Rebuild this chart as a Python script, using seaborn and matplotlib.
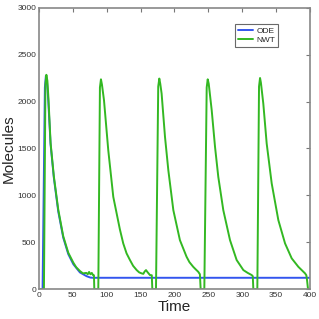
import matplotlib
matplotlib.use("Agg")
import matplotlib.pyplot as plt
import seaborn as sns
import pandas as pd

# ODE solution
ode_t = [0, 5.4, 8.8, 10.3, 12, 13.8, 17.2, 22, 28.5, 35.9, 43.3, 50.7, 60.5, 70.3, 76, 80, 100, 200, 300, 400]
ode_v = [0, 0, 2150, 2275, 2200, 2010, 1545, 1190, 830, 550, 375, 268, 180, 140, 125, 123, 123, 123, 123, 123]

# NWT stochastic simulation
nwt_t = [0, 7.4, 9.6, 11, 12.5, 14, 17.2, 22, 28.5, 35.9, 43.3, 50.7, 55, 60.5, 65, 70, 72, 74, 76, 78, 80, 81.2, 81.7, 87.6,
         90, 91.5, 93, 96, 102.3, 109.7, 119.4, 124.4, 129.3, 134.3, 139, 144.2, 148, 151.5, 154, 156, 158, 160, 163.8, 166.5, 167.3, 172.7,
         176, 177.6, 179, 181, 186, 190.9, 198.3, 208, 217.8, 222, 227.6, 231, 235, 237.5, 238.6, 244,
         247.5, 249, 250.5, 254.9, 259.8, 264.6, 272, 281.9, 291.7, 301.6, 308, 313.9, 315.5, 316.3, 322.2,
         324.7, 326.2, 327.5, 331, 336, 343.4, 353.2, 363.1, 372.9, 382.7, 392.6, 394.5, 395.5, 397, 400]
nwt_v = [0, 0, 2180, 2285, 2220, 2040, 1560, 1205, 850, 565, 390, 285, 235, 195, 170, 175, 160, 185, 160, 175, 150, 150, 0, 0,
         2150, 2237, 2180, 2014, 1482, 985, 640, 489, 383, 312, 250, 205, 180, 170, 165, 190, 205, 185, 152, 150, 0, 0,
         2160, 2245, 2190, 2085, 1623, 1269, 843, 524, 347, 290, 240, 215, 187, 160, 0, 0,
         2150, 2237, 2190, 1907, 1517, 1198, 843, 524, 312, 205, 175, 152, 140, 0, 0,
         2160, 2251, 2200, 1979, 1553, 1128, 737, 489, 330, 240, 170, 150, 100, 0, 0]

ode = pd.DataFrame({"t": ode_t, "v": ode_v})
nwt = pd.DataFrame({"t": nwt_t, "v": nwt_v})

sns.set_style("white")
plt.rcParams["font.family"] = ["Liberation Sans", "DejaVu Sans"]

fig = plt.figure(figsize=(3.19, 3.19), dpi=100)
ax = fig.add_axes([0.122, 0.093, 0.850, 0.883])

sns.lineplot(data=ode, x="t", y="v", ax=ax, color="#3355ee", lw=1.4, label="ODE", sort=False, estimator=None)
sns.lineplot(data=nwt, x="t", y="v", ax=ax, color="#33b822", lw=1.4, label="NWT", sort=False, estimator=None)

ax.set_xlim(0, 400)
ax.set_ylim(0, 3000)
ax.set_xticks(range(0, 401, 50))
ax.set_yticks(range(0, 3001, 500))
ax.tick_params(direction="in", length=3, width=0.8, colors="#777777", labelcolor="#333333",
               labelsize=6, top=True, right=True, pad=2)
for s in ax.spines.values():
    s.set_color("#888888")
    s.set_linewidth(1.2)

ax.set_xlabel("Time", fontsize=11, labelpad=1)
ax.set_ylabel("Molecules", fontsize=11, labelpad=1)

leg = ax.legend(loc="upper right", bbox_to_anchor=(0.898, 0.955), fontsize=6, frameon=True,
                fancybox=False, handlelength=1.8, borderpad=0.3, labelspacing=0.2, handletextpad=0.5)
leg.get_frame().set_edgecolor("#444444")
leg.get_frame().set_linewidth(0.8)

fig.savefig("out.png", dpi=100)
